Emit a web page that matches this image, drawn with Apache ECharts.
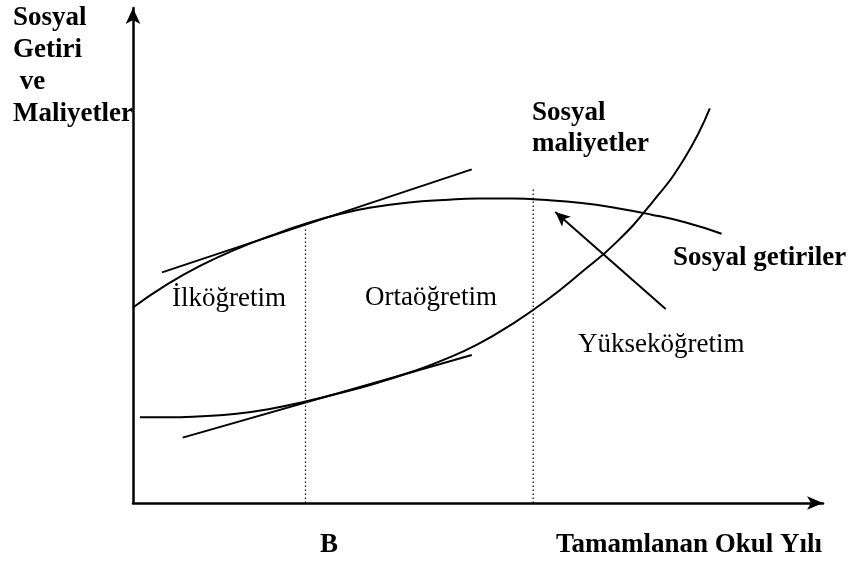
<!DOCTYPE html>
<html>
<head>
<meta charset="utf-8">
<script src="https://cdn.jsdelivr.net/npm/echarts@6/dist/echarts.min.js"></script>
<style>
  html, body { margin: 0; padding: 0; background: #ffffff; }
  #main { width: 852px; height: 561px; }
</style>
</head>
<body>
<div id="main"></div>
<script>
// 社会收益曲线 (Sosyal getiriler)
const returnsX = [0, 5, 10, 15, 20, 25, 30, 35, 40, 45, 50, 55, 60, 65, 70, 75, 80, 85.3];
const returnsY = [39.5, 44.2, 48.1, 51.3, 54.0, 56.4, 58.4, 59.8, 60.7, 61.2, 61.5, 61.5, 61.2, 60.6, 59.6, 58.3, 56.7, 54.4];
// 社会成本曲线 (Sosyal maliyetler)
const costsX = [1, 5, 10, 15, 20, 25, 30, 35, 40, 45, 50, 55, 60, 65, 70, 75, 80, 83.6];
const costsY = [17.3, 17.3, 17.55, 18.05, 19.05, 20.5, 22.2, 24.1, 26.3, 28.9, 32.1, 36.2, 41.0, 46.6, 52.6, 60.3, 69.8, 79.7];
// 切线
const returnsTangentX = [4.2, 49.1];
const returnsTangentY = [46.6, 67.4];
const costsTangentX = [7.2, 49.1];
const costsTangentY = [13.2, 29.9];
// 教育阶段分界 (虚线)
const boundaryX = [25.0, 58.0];
const boundaryTop = [55.5, 63.4];
// 指向 Yükseköğretim 的箭头
const arrowFrom = [77.2, 39.2];
const arrowTo = [61.2, 58.8];

const font = 'Liberation Serif, Times New Roman, serif';

const toPairs = (xs, ys) => xs.map((x, i) => [x, ys[i]]);

const lineSeries = (data, extra) => Object.assign({
  type: 'line',
  data: data,
  symbol: 'none',
  smooth: false,
  silent: true,
  animation: false,
  lineStyle: { color: '#000000', width: 2 },
}, extra || {});

const series = [
  lineSeries(toPairs(returnsX, returnsY), { smooth: 0.5 }),
  lineSeries(toPairs(costsX, costsY), { smooth: 0.5 }),
  lineSeries(toPairs(returnsTangentX, returnsTangentY)),
  lineSeries(toPairs(costsTangentX, costsTangentY), {
    // 箭头
    markLine: {
      silent: true,
      animation: false,
      symbol: ['none', 'arrow'],
      symbolSize: [10, 15],
      label: { show: false },
      lineStyle: { color: '#000000', width: 2, type: 'solid' },
      data: [[{ coord: arrowFrom }, { coord: arrowTo }]],
    },
  }),
];
boundaryX.forEach((x, i) => {
  series.push(lineSeries([[x, 0], [x, boundaryTop[i]]], {
    lineStyle: { color: '#000000', width: 1.2, type: [1.5, 2.5] },
  }));
});

const text = (x, y, str, bold, extra) => ({
  type: 'text',
  x: x,
  y: y,
  silent: true,
  style: Object.assign({
    text: str,
    fill: '#000000',
    font: (bold ? 'bold ' : '') + '27px ' + font,
    verticalAlign: 'middle',
  }, extra || {}),
});

const option = {
  backgroundColor: '#ffffff',
  animation: false,
  grid: { left: 133, right: 29, top: 8, bottom: 58 },
  xAxis: {
    type: 'value',
    min: 0,
    max: 100,
    axisLine: {
      show: true,
      symbol: ['none', 'arrow'],
      symbolSize: [10, 16],
      lineStyle: { color: '#000000', width: 2.5 },
    },
    axisTick: { show: false },
    axisLabel: { show: false },
    splitLine: { show: false },
  },
  yAxis: {
    type: 'value',
    min: 0,
    max: 100,
    axisLine: {
      show: true,
      symbol: ['none', 'arrow'],
      symbolSize: [11, 16],
      lineStyle: { color: '#000000', width: 2.5 },
    },
    axisTick: { show: false },
    axisLabel: { show: false },
    splitLine: { show: false },
  },
  graphic: [
    text(13, 2.6, 'Sosyal\nGetiri\n ve\nMaliyetler', true, { verticalAlign: 'top', lineHeight: 31.7 }),
    text(532, 97.3, 'Sosyal\nmaliyetler', true, { verticalAlign: 'top', lineHeight: 31 }),
    text(673, 258, 'Sosyal getiriler', true),
    text(172, 299, 'İlköğretim', false),
    text(365, 298, 'Ortaöğretim', false),
    text(578, 345, 'Yükseköğretim', false),
    text(320, 545, 'B', true),
    text(556, 545, 'Tamamlanan Okul Yılı', true),
  ],
  series: series,
};

const myChart = echarts.init(document.getElementById('main'));
myChart.setOption(option);
window.onresize = function () {
  myChart.resize();
};
</script>
</body>
</html>
